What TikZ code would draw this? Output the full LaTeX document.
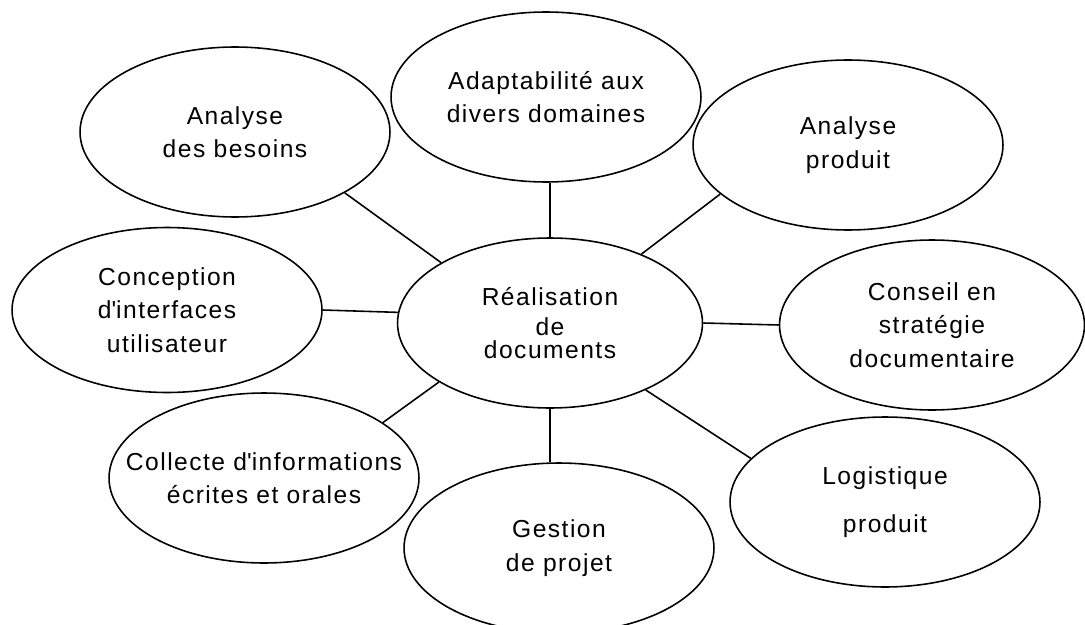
\documentclass[tikz,border=0pt]{standalone}
\usepackage{fontspec}
\setmainfont{Liberation Sans}[LetterSpace=6]
\usetikzlibrary{shapes.geometric}

\begin{document}
\begin{tikzpicture}[x=0.02cm, y=-0.02cm, line width=0.9pt,
    bubble/.style={draw, ellipse, minimum width=6.2cm, minimum height=3.4cm, inner sep=-0.8cm, align=center, font=\fontsize{14}{19}\selectfont}]
        \useasboundingbox (0,0) rectangle (1085,625);

        \node[bubble, minimum width=6.1cm] (central) at (550,323) {Réalisation\\[-2pt]de\\[-6pt]documents};
        \node[bubble] (besoins) at (235,132) {Analyse\\des besoins};
        \node[bubble] (adapt) at (546,97) {Adaptabilité aux\\divers domaines};
        \node[bubble] (produit) at (848,145) {Analyse\\produit};
        \node[bubble, minimum width=6.1cm] (conseil) at (932,325) {Conseil en\\stratégie\\documentaire};
        \node[bubble, minimum height=3.3cm] (conception) at (167,310) {Conception\\d\textquotesingle interfaces\\utilisateur};
        \node[bubble] (collecte) at (264,478) {Collecte d\textquotesingle informations\\écrites et orales};
        \node[bubble] (gestion) at (559,548) {Gestion\\de projet};
        \node[bubble] (logistique) at (885,502) {Logistique\\[8pt]produit};

        \draw (besoins.-29) -- (central.151);
        \draw (central.north) -- (central.north |- adapt.south);
        \draw (produit.201) -- (central.37);
        \draw (conception.east) -- (central.176);
        \draw (central.east) -- (conseil.west);
        \draw (collecte.25) -- (central.208);
        \draw (central.south) -- (central.south |- gestion.north);
        \draw (central.-35) -- (logistique.162);
    \end{tikzpicture}
\end{document}
